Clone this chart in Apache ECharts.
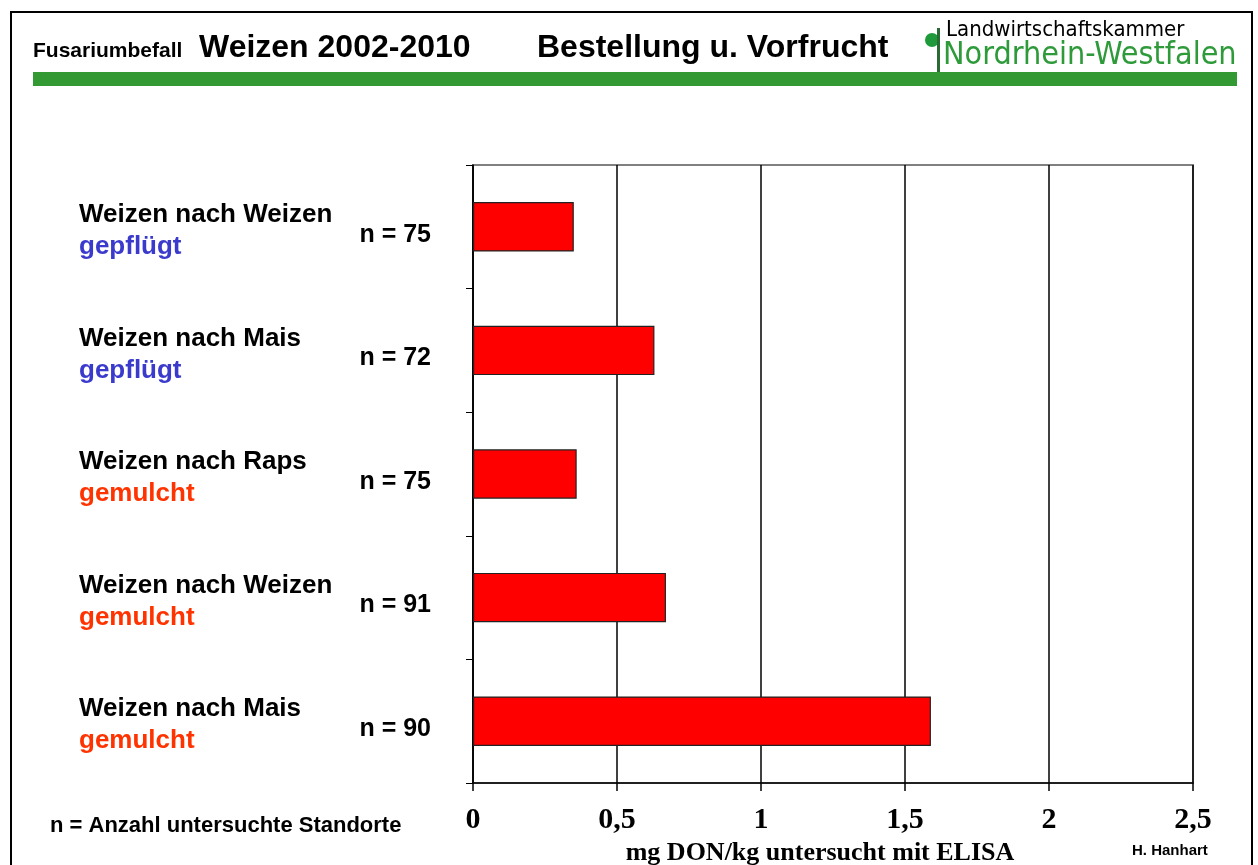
<!DOCTYPE html>
<html>
<head>
<meta charset="utf-8">
<script src="https://cdn.jsdelivr.net/npm/echarts@6/dist/echarts.min.js"></script>
<style>
html,body{margin:0;padding:0;background:#fff;}
#chart{width:1258px;height:865px;}
</style>
</head>
<body>
<div id="chart"></div>
<script>
// data
var sorten = ['Weizen nach Weizen', 'Weizen nach Mais', 'Weizen nach Raps', 'Weizen nach Weizen', 'Weizen nach Mais'];
var bestellung = ['gepflügt', 'gepflügt', 'gemulcht', 'gemulcht', 'gemulcht'];
var anzahl = [75, 72, 75, 91, 90];
var don = [0.35, 0.63, 0.36, 0.67, 1.59];
var xTicks = [0, 0.5, 1, 1.5, 2, 2.5];

var pageEm = document.getElementById('chart');
var myChart = echarts.init(pageEm);// init

var cats = sorten.map(function (s, i) { return i; });

var option = {
    backgroundColor: '#fff',
    animation: false,
    grid: {left: 473, right: 65, top: 165, bottom: 82, show: true, borderColor: '#808080', borderWidth: 2,
        outerBoundsMode: 'none', containLabel: false},
    xAxis: {
        type: 'value', min: xTicks[0], max: xTicks[xTicks.length - 1], interval: 0.5,
        axisLine: {show: true, lineStyle: {color: '#000', width: 1.5}},
        axisTick: {show: true, length: 8, lineStyle: {color: '#000', width: 1.5}},
        splitLine: {show: true, lineStyle: {color: '#000', width: 1.5}},
        axisLabel: {
            margin: 22, color: '#000', fontFamily: 'Liberation Serif', fontWeight: 'bold', fontSize: 30,
            formatter: function (v) { return String(v).replace('.', ','); }
        },
        name: 'mg DON/kg untersucht mit ELISA', nameLocation: 'middle', nameGap: 50,
        nameTextStyle: {color: '#000', fontFamily: 'Liberation Serif', fontWeight: 'bold', fontSize: 26, padding: [0, 26, 0, 0]}
    },
    yAxis: [{
        type: 'category', data: cats, inverse: true,
        axisLine: {show: true, lineStyle: {color: '#000', width: 1.5}},
        axisTick: {show: true, length: 7, lineStyle: {color: '#000', width: 1}},
        splitLine: {show: false},
        axisLabel: {
            align: 'left', margin: 394, padding: [8, 0, 0, 0],
            formatter: function (v) {
                var cls = bestellung[v] === 'gepflügt' ? 'b' : 'r';
                return '{s|' + sorten[v] + '}\n{' + cls + '|' + bestellung[v] + '}';
            },
            rich: {
                s: {fontFamily: 'Liberation Sans', fontWeight: 'bold', fontSize: 26, color: '#000', lineHeight: 32},
                b: {fontFamily: 'Liberation Sans', fontWeight: 'bold', fontSize: 26, color: '#3a3acc', lineHeight: 32},
                r: {fontFamily: 'Liberation Sans', fontWeight: 'bold', fontSize: 26, color: '#ff3300', lineHeight: 32}
            }
        }
    }, {
        type: 'category', data: cats, inverse: true, position: 'left',
        axisLine: {show: false}, axisTick: {show: false}, splitLine: {show: false},
        axisLabel: {
            margin: 42, color: '#000', fontFamily: 'Liberation Sans', fontWeight: 'bold', fontSize: 25,
            verticalAlign: 'top', lineHeight: 16,
            formatter: function (v) { return 'n = ' + anzahl[v]; }
        }
    }],
    series: [{
        type: 'bar', data: don, barWidth: '40%',
        itemStyle: {color: '#ff0000', borderColor: '#222', borderWidth: 1.2},
        silent: true
    }],
    graphic: [
        {type: 'rect', shape: {x: 11, y: 12, width: 1241, height: 900}, style: {fill: 'none', stroke: '#000', lineWidth: 2}, silent: true},
        {type: 'rect', shape: {x: 33, y: 72, width: 1204, height: 14}, style: {fill: '#339933'}, silent: true},
        {type: 'text', left: 33, top: 41, style: {text: 'Fusariumbefall', font: 'bold 21px "Liberation Sans"', fill: '#000'}},
        {type: 'text', left: 199, top: 32, style: {text: 'Weizen 2002-2010', font: 'bold 32px "Liberation Sans"', fill: '#000'}},
        {type: 'text', left: 537, top: 32, style: {text: 'Bestellung u. Vorfrucht', font: 'bold 32px "Liberation Sans"', fill: '#000'}},
        {type: 'circle', shape: {cx: 932, cy: 40, r: 7}, style: {fill: '#1f9a3a'}, silent: true},
        {type: 'rect', shape: {x: 937, y: 28, width: 3, height: 44}, style: {fill: '#2a6a35'}, silent: true},
        {type: 'text', left: 946, top: 19, style: {text: 'Landwirtschaftskammer', font: '22px "DejaVu Sans Condensed"', fill: '#000'}},
        {type: 'text', left: 943, top: 40, style: {text: 'Nordrhein-Westfalen', font: '32px "DejaVu Sans Condensed"', fill: '#2e9a3a'}},
        {type: 'text', left: 50, top: 815, style: {text: 'n = Anzahl untersuchte Standorte', font: 'bold 22px "Liberation Sans"', fill: '#000'}},
        {type: 'text', left: 1132, top: 843, style: {text: 'H. Hanhart', font: 'bold 15px "Liberation Sans"', fill: '#000'}}
    ]
};
myChart.setOption(option);
</script>
</body>
</html>
